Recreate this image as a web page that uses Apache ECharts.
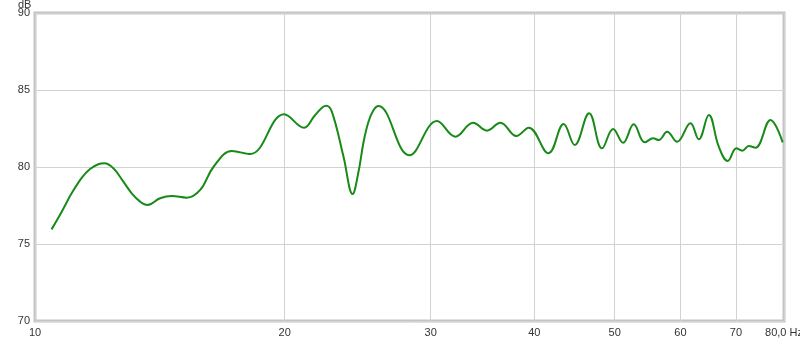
<!DOCTYPE html>
<html>
<head>
<meta charset="utf-8">
<script src="https://cdn.jsdelivr.net/npm/echarts@6/dist/echarts.min.js"></script>
<style>html,body{margin:0;padding:0;background:#fff}#c{width:800px;height:341px}</style>
</head>
<body>
<div id="c"></div>
<script>
var freqs = [10.47, 10.77, 11.07, 11.39, 11.65, 11.92, 12.12, 12.43, 12.78, 13.08, 13.39, 13.66, 14.15, 14.62, 15.24, 15.82, 16.41, 17.27, 18.17, 19.97, 21.11, 21.77, 22.44, 22.8, 23.55, 24.15, 24.55, 24.9, 25.24, 25.6, 25.95, 28.27, 30.53, 32.12, 33.74, 35.07, 36.4, 38.05, 39.38, 41.6, 43.39, 44.74, 46.57, 48.27, 49.78, 51.18, 52.71, 54.35, 55.63, 56.5, 57.84, 59.46, 61.7, 63.14, 64.93, 66.75, 68.43, 70.1, 71.25, 72.55, 73.9, 77.06, 79.7];
var levels = [75.95, 77.1, 78.29, 79.31, 79.87, 80.18, 80.24, 79.92, 79.05, 78.29, 77.75, 77.53, 77.97, 78.12, 78.01, 78.51, 80.0, 81.04, 80.84, 83.42, 82.55, 83.38, 83.98, 83.6, 80.67, 78.25, 79.69, 81.64, 82.94, 83.7, 83.96, 80.76, 82.99, 81.97, 82.88, 82.36, 82.88, 82.01, 82.55, 80.89, 82.79, 81.43, 83.49, 81.21, 82.47, 81.58, 82.77, 81.6, 81.86, 81.75, 82.29, 81.64, 82.84, 81.8, 83.38, 81.32, 80.39, 81.21, 81.06, 81.36, 81.25, 83.05, 81.6];
var xTicks = [10, 20, 30, 40, 50, 60, 70, 80];
var yTicks = [70, 75, 80, 85, 90];
var yUnit = 'dB';

var data = freqs.map(function (f, i) { return [f, levels[i]]; });
var FONT = 'Liberation Sans';
var chart = echarts.init(document.getElementById('c'), null, {renderer: 'canvas'});
chart.setOption({
  animation: false,
  title: {text: yUnit, left: 18, top: -1, padding: 0,
    textStyle: {color: '#333', fontSize: 11, fontWeight: 'normal', fontFamily: FONT}},
  grid: {left: 35, right: 16, top: 13, bottom: 20, outerBoundsMode: 'none', containLabel: false,
    show: true, borderColor: '#c4c4c4', borderWidth: 3, backgroundColor: '#fff'},
  xAxis: {
    type: 'log', logBase: 10, min: 10, max: 80,
    axisLine: {show: false},
    axisTick: {show: false, customValues: xTicks},
    splitLine: {show: true, lineStyle: {color: '#d2d2d2', width: 1}},
    axisLabel: {
      customValues: xTicks, margin: 6, color: '#333', fontSize: 11, fontFamily: FONT,
      showMinLabel: true, showMaxLabel: true, hideOverlap: false,
      formatter: function (v) { return Math.round(v) === 80 ? '80,0 Hz' : String(Math.round(v)); }
    }
  },
  yAxis: {
    type: 'value', min: 70, max: 90, interval: 5,
    axisLine: {show: false},
    axisTick: {show: false},
    splitLine: {show: true, lineStyle: {color: '#d2d2d2', width: 1}},
    axisLabel: {margin: 5, color: '#333', fontSize: 11, fontFamily: FONT, padding: [3, 0, 0, 0],
      formatter: function (v) { return yTicks.indexOf(v) >= 0 ? String(v) : ''; }}
  },
  series: [{
    type: 'line', data: data, smooth: 0.4, symbol: 'none',
    lineStyle: {color: '#178a17', width: 2}
  }]
});
</script>
</body>
</html>
